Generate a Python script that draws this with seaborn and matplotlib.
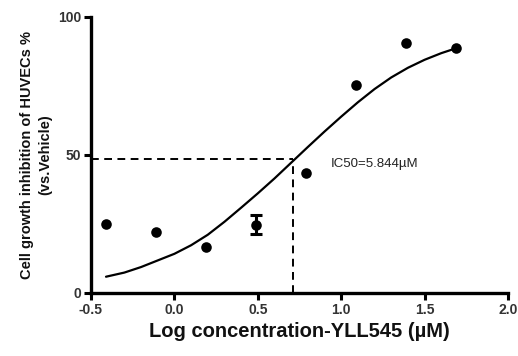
import matplotlib
matplotlib.use("Agg")
import matplotlib.pyplot as plt
import seaborn as sns
import pandas as pd

# data points (log concentration, % inhibition)
log_conc = [-0.41, -0.11, 0.19, 0.49, 0.79, 1.09, 1.39, 1.69]
inhibition = [25.0, 22.0, 16.5, 24.8, 43.6, 75.5, 90.5, 88.7]
err_x = [0.49]
err_y = [24.8]
err_half = [3.3]

# fitted curve
curve_x = [-0.41, -0.3, -0.2, -0.1, 0.0, 0.1, 0.2, 0.3, 0.4, 0.5, 0.6, 0.7, 0.8,
           0.9, 1.0, 1.1, 1.2, 1.3, 1.4, 1.5, 1.6, 1.69]
curve_y = [5.9, 7.4, 9.4, 11.8, 14.2, 17.3, 21.1, 25.8, 30.9, 36.1, 41.5, 47.2, 52.9,
           58.5, 63.9, 69.1, 73.9, 78.1, 81.6, 84.5, 86.9, 88.7]

ic50_x = 0.71
ic50_y = 48.4
ic50_label = "IC50=5.844\u00b5M"

xticks = [-0.5, 0.0, 0.5, 1.0, 1.5, 2.0]
xtick_labels = ["-0.5", "0.0", "0.5", "1.0", "1.5", "2.0"]
yticks = [0, 50, 100]

sns.set_theme(style="ticks")
plt.rcParams['font.family'] = ['Liberation Sans', 'DejaVu Sans']

fig = plt.figure(figsize=(5.18, 3.56), dpi=100)
ax = fig.add_axes([91/518, 1-293/356, (508-91)/518, (293-17)/356])

pts = pd.DataFrame({"x": log_conc, "y": inhibition})
cur = pd.DataFrame({"x": curve_x, "y": curve_y})

sns.lineplot(data=cur, x="x", y="y", ax=ax, color="black", linewidth=1.6, sort=False,
             solid_joinstyle="round")
ax.plot([-0.5, ic50_x], [ic50_y, ic50_y], color="black", linestyle=(0, (4, 2.8)), linewidth=1.4)
ax.plot([ic50_x, ic50_x], [0, ic50_y], color="black", linestyle=(0, (4, 2.8)), linewidth=1.4)
ax.errorbar(err_x, err_y, yerr=err_half, fmt="none", ecolor="black", elinewidth=2.2, capsize=4, capthick=2.2)
sns.scatterplot(data=pts, x="x", y="y", ax=ax, color="black", s=58, edgecolor="black", linewidth=0, zorder=5)

ax.text(0.94, 46.7, ic50_label, fontsize=9.5, color="#222222", va="center", ha="left")

ax.set_xlim(-0.5, 2.0)
ax.set_ylim(0, 100)
ax.set_xticks(xticks)
ax.set_xticklabels(xtick_labels)
ax.set_yticks(yticks)
for lab in ax.get_xticklabels() + ax.get_yticklabels():
    lab.set_fontweight("bold")
    lab.set_color("#333333")
    lab.set_fontsize(10)

ax.set_xlabel("Log concentration-YLL545 (\u00b5M)", fontsize=14.5, fontweight="bold", color="#111111", labelpad=4)
ax.set_ylabel("Cell growth inhibition of HUVECs %\n(vs.Vehicle)", fontsize=10.5, fontweight="bold", color="#111111",
              labelpad=4, linespacing=1.45)

for s in ["left", "bottom"]:
    ax.spines[s].set_linewidth(2.4)
    ax.spines[s].set_color("black")
sns.despine(ax=ax)
ax.tick_params(axis="both", width=2.2, length=5, color="black", pad=2)
ax.patch.set_alpha(0)

fig.savefig("out.png", dpi=100)
